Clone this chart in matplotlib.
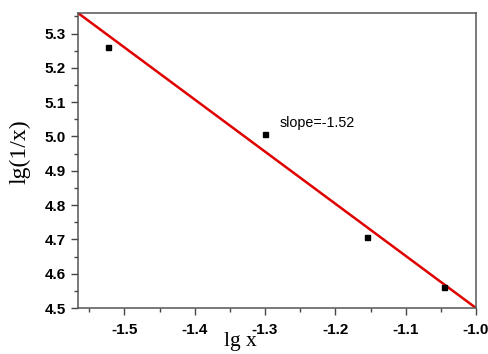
import numpy as np
import matplotlib
matplotlib.use('Agg')
import matplotlib.pyplot as plt
from matplotlib.ticker import MultipleLocator

# data
lg_x = [-1.523, -1.300, -1.155, -1.046]
lg_inv_x = [5.262, 5.006, 4.707, 4.561]

# fitted line (end points at the axis corners)
fit_x = [-1.566, -1.0]
fit_y = [5.36, 4.50]

slope_text = 'slope=-1.52'

fig = plt.figure(figsize=(4.89, 3.54), dpi=100)
ax = fig.add_axes([78 / 489, 46 / 354, 398 / 489, 295 / 354])

ax.plot(fit_x, fit_y, color='#e00000', lw=1.8, zorder=2)
ax.plot(lg_x, lg_inv_x, 's', color='black', ms=3.6, zorder=3)

ax.text(-1.279, 5.040, slope_text, fontsize=10.3, fontfamily='Liberation Sans',
        va='center', ha='left')

ax.set_xlim(-1.566, -1.0)
ax.set_ylim(4.5, 5.36)
ax.xaxis.set_major_locator(MultipleLocator(0.1))
ax.xaxis.set_minor_locator(MultipleLocator(0.05))
ax.yaxis.set_major_locator(MultipleLocator(0.1))
ax.yaxis.set_minor_locator(MultipleLocator(0.05))
ax.xaxis.set_major_formatter(matplotlib.ticker.FormatStrFormatter('%.1f'))
ax.yaxis.set_major_formatter(matplotlib.ticker.FormatStrFormatter('%.1f'))

ax.tick_params(which='major', direction='out', length=5, width=1, color='#444444')
ax.tick_params(which='minor', direction='out', length=3, width=1, color='#444444')
ax.tick_params(top=False, right=False, which='both')
for lab in ax.get_xticklabels() + ax.get_yticklabels():
    lab.set_fontfamily('Liberation Sans')
    lab.set_fontweight('bold')
    lab.set_fontsize(11)
ax.tick_params(axis='x', pad=6)
ax.tick_params(axis='y', pad=3.5)

for s in ax.spines.values():
    s.set_color('#555555')
    s.set_linewidth(1.1)

ax.set_xlabel('lg x', fontsize=15.5, fontfamily='Liberation Serif')
ax.xaxis.set_label_coords((240 - 78) / 398, -0.082)
ax.set_ylabel('lg(1/x)', fontsize=17, fontfamily='Liberation Serif')
ax.yaxis.set_label_coords(-0.12, (308 - 152) / 295)

fig.savefig('out.png', dpi=100)
